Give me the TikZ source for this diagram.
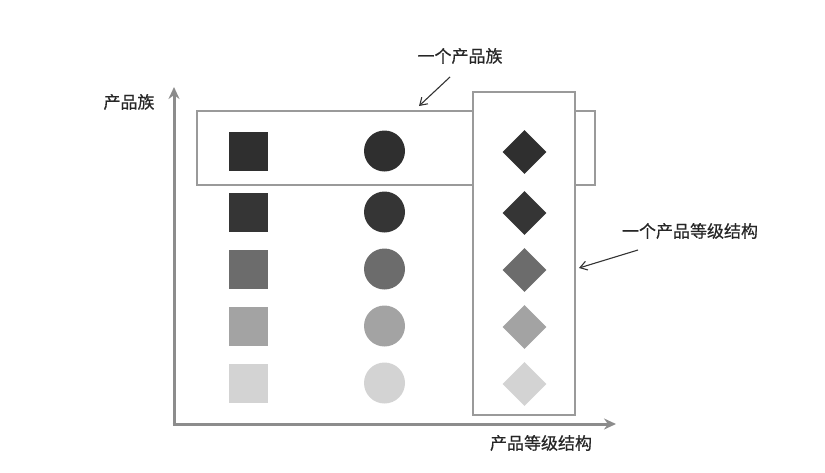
\documentclass[tikz,border=0pt]{standalone}
\usepackage{fontspec}
\setmainfont{Noto Sans CJK SC}
\newfontfamily\lblfont{Noto Sans CJK SC}[FakeBold=0.6]
\usetikzlibrary{shapes.geometric,arrows.meta}
\definecolor{axisgray}{HTML}{8C8C8C}
\definecolor{boxgray}{HTML}{9A9A9A}
\definecolor{c1}{HTML}{2F2F2F}
\definecolor{c2}{HTML}{353535}
\definecolor{c3}{HTML}{6C6C6C}
\definecolor{c4}{HTML}{A3A3A3}
\definecolor{c5}{HTML}{D3D3D3}
\tikzset{
  sq/.style={rectangle, minimum size=39pt, inner sep=0pt, draw=none},
  ci/.style={circle, minimum size=41pt, inner sep=0pt, draw=none},
  di/.style={diamond, minimum width=44pt, minimum height=44pt, aspect=1, inner sep=0pt, draw=none},
  axis/.style={draw=axisgray, line width=3pt, -{Stealth[length=12pt,width=11pt]}},
  grpbox/.style={draw=boxgray, line width=2.6pt},
  lbl/.style={font=\lblfont\fontsize{17pt}{18pt}\selectfont, text=black!85, inner sep=0pt},
  callout/.style={draw=black!80, line width=1.1pt, -{Straight Barb[length=7pt,width=9pt]}}
}
\begin{document}
\begin{tikzpicture}[x=1pt,y=-1pt]
\useasboundingbox (0,0) rectangle (825,472);
% axes
\coordinate (o) at (174,424);
\coordinate (ytop) at (174,87);
\coordinate (xend) at (616,424);
\draw[axis] (174,425.5) -- (ytop);
\draw[axis] (172.5,424) -- (xend);
% group boxes
\node[grpbox, rectangle, minimum width=398pt, minimum height=74pt, inner sep=0pt] (fam) at (396,148) {};
\node[grpbox, rectangle, fill=white, minimum width=102pt, minimum height=323pt, inner sep=0pt] (lvl) at (524,253.5) {};
% rows
\foreach \y/\c [count=\i] in {151/c1,212/c2,269/c3,326/c4,383/c5}{
  \node[sq, fill=\c] (s\i) at (248.5,\y) {};
  \node[ci, fill=\c] (k\i) at (384.5,\y) {};
  \node[di, fill=\c] (d\i) at (524.5,\y+1) {};
}
% labels
\node[lbl] (ylab) at (129,102) {产品族};
\node[lbl] (xlab) at (541,443) {产品等级结构};
\node[lbl] (famlab) at (460,56) {一个产品族};
\node[lbl] (lvllab) at (690,231) {一个产品等级结构};
% callouts
\coordinate (fa) at (450,77);
\coordinate (fb) at (419,106);
\coordinate (la) at (638,250);
\coordinate (lb) at (579,268);
\draw[callout] (fa) -- (fb);
\draw[callout] (la) -- (lb);
\end{tikzpicture}
\end{document}
